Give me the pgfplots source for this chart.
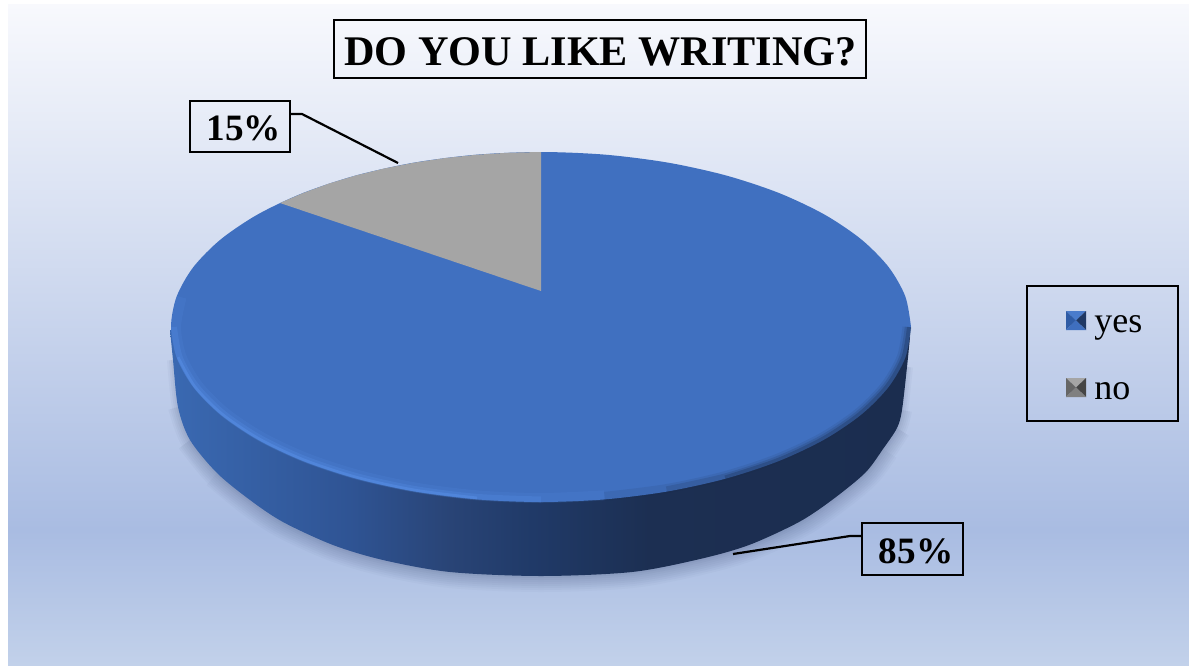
\documentclass[border=0pt]{standalone}
\usepackage{pgfplots}
\usepackage{pgfplotstable}
\usepackage{fontspec}
\setmainfont{Liberation Serif}
\pgfplotsset{compat=1.18}

\definecolor{faceblue}{HTML}{4070C0}
\definecolor{rimlight}{HTML}{5C96EE}
\definecolor{sidedark}{HTML}{1B2D4F}
\definecolor{sliceGray}{HTML}{A5A5A5}
\definecolor{shadowtone}{HTML}{3A4A70}
\definecolor{bgA}{HTML}{C2D1EA}
\definecolor{bgB}{HTML}{A9BCE2}
\definecolor{bgC}{HTML}{F8F9FD}
\definecolor{sA}{HTML}{3A69B2}
\definecolor{sB}{HTML}{2F5494}
\definecolor{sC}{HTML}{294476}
\definecolor{sD}{HTML}{203A68}
\definecolor{sE}{HTML}{1C2F52}
\definecolor{sF}{HTML}{1B2D4F}
\definecolor{keyBt}{HTML}{4A7CCC}
\definecolor{keyBr}{HTML}{1F3864}
\definecolor{keyBl}{HTML}{2F5CA6}
\definecolor{keyBb}{HTML}{3F6FBF}
\definecolor{keyGt}{HTML}{A5A5A5}
\definecolor{keyGr}{HTML}{454545}
\definecolor{keyGl}{HTML}{666666}
\definecolor{keyGb}{HTML}{808080}

% Backdrop: one vertical run from pale at the top to mid blue, then lighter again
\pgfdeclareverticalshading{backdrop}{100bp}{
  color(0bp)=(bgA); color(25bp)=(bgA);
  color(35.2bp)=(bgB);
  color(75bp)=(bgC); color(100bp)=(bgC)}
% Rim of the disc, lit from the left
\pgfdeclarehorizontalshading{discside}{100bp}{
  color(0bp)=(sA); color(25bp)=(sA);
  color(37.1bp)=(sB);
  color(43.9bp)=(sC);
  color(49.5bp)=(sD);
  color(57.4bp)=(sE);
  color(75bp)=(sF); color(100bp)=(sF)}

% Shares shown in the pie
\pgfplotstableread{
answer share
yes    85
no     15
}\sharetable
\pgfplotstablegetelem{0}{share}\of\sharetable
\edef\yesshare{\pgfplotsretval}
\pgfplotstablegetelem{1}{share}\of\sharetable
\edef\noshare{\pgfplotsretval}

% Outline of the disc top: cosine and sine every 10 degrees, index = angle/10
\pgfplotstableread{
c s
1 0
.9848 .1736
.9397 .3420
.8660 .5
.7660 .6428
.6428 .7660
.5 .8660
.3420 .9397
.1736 .9848
0 1
-.1736 .9848
-.3420 .9397
-.5 .8660
-.6428 .7660
-.7660 .6428
-.8660 .5
-.9397 .3420
-.9848 .1736
-1 0
-.9848 -.1736
-.9397 -.3420
-.8660 -.5
-.7660 -.6428
-.6428 -.7660
-.5 -.8660
-.3420 -.9397
-.1736 -.9848
0 -1
.1736 -.9848
.3420 -.9397
.5 -.8660
.6428 -.7660
.7660 -.6428
.8660 -.5
.9397 -.3420
.9848 -.1736
1 0
}\discedge

% Lower silhouette of the disc
\pgfplotstableread{
x y
170 330
173 360
178 407
190 440
217 473
250 500
283 522
333 545
383 560
450 572
541 576
632 572
700 559
749 545
799 522
832 500
865 473
883 449
897 428
902 410
907 367
910 337
}\silhouette

% Disc centre and radii on the 1189 by 665 grid of the axis
\def\ex{541+370*\thisrow{c}}
\def\ey{327-175*\thisrow{s}}

\begin{document}
\begin{tikzpicture}
\begin{axis}[
  scale only axis, width=594.5pt, height=332.5pt,
  xmin=0, xmax=1189, ymin=0, ymax=665, y dir=reverse,
  hide axis, clip=true,
]
% page and chart area
\addplot[fill=white, draw=none] coordinates {(0,0) (1189,0) (1189,665) (0,665)} -- cycle;
\addplot[shading=backdrop, draw=none] coordinates {(8,4) (1189,4) (1189,665) (8,665)} -- cycle;

% soft shadow under the disc, wider where the wall is lowest
\addplot[draw=shadowtone, opacity=.03, line width=16pt, smooth, restrict expr to domain={\coordindex}{4:17}] table[x=x,y=y] {\silhouette};
\addplot[draw=shadowtone, opacity=.035, line width=14pt, smooth, restrict expr to domain={\coordindex}{3:18}] table[x=x,y=y] {\silhouette};
\addplot[draw=shadowtone, opacity=.04, line width=12pt, smooth, restrict expr to domain={\coordindex}{3:18}] table[x=x,y=y] {\silhouette};
\addplot[draw=shadowtone, opacity=.04, line width=10pt, smooth, restrict expr to domain={\coordindex}{2:19}] table[x=x,y=y] {\silhouette};
\addplot[draw=shadowtone, opacity=.04, line width=8pt, smooth, restrict expr to domain={\coordindex}{2:19}] table[x=x,y=y] {\silhouette};
\addplot[draw=shadowtone, opacity=.04, line width=6pt, smooth, restrict expr to domain={\coordindex}{1:20}] table[x=x,y=y] {\silhouette};
\addplot[draw=shadowtone, opacity=.05, line width=4pt, smooth, restrict expr to domain={\coordindex}{1:20}] table[x=x,y=y] {\silhouette};
\addplot[draw=shadowtone, opacity=.06, line width=2pt, smooth, restrict expr to domain={\coordindex}{1:20}] table[x=x,y=y] {\silhouette};

% side wall and top of the disc
\addplot[shading=discside, draw=none, smooth] table[x=x,y=y] {\silhouette} -- cycle;
\addplot[fill=faceblue, draw=none, smooth] table[x expr=\ex, y expr=\ey] {\discedge} -- cycle;

% light bevel on the lower left, kept just inside the edge
\addplot[draw=rimlight, opacity=.12, line width=5pt, smooth,
  restrict expr to domain={\coordindex}{17:28}]
  table[x expr=541+365*\thisrow{c}, y expr=327-171*\thisrow{s}] {\discedge};
\addplot[draw=rimlight, opacity=.22, line width=3pt, smooth,
  restrict expr to domain={\coordindex}{18:27}]
  table[x expr=541+367*\thisrow{c}, y expr=327-172.5*\thisrow{s}] {\discedge};
\addplot[draw=rimlight, opacity=.4, line width=1.3pt, smooth,
  restrict expr to domain={\coordindex}{19:26}]
  table[x expr=541+368.5*\thisrow{c}, y expr=327-173.5*\thisrow{s}] {\discedge};
% dark blurred edge on the lower right
\addplot[draw=sidedark, opacity=.1, line width=4.5pt, smooth,
  restrict expr to domain={\coordindex}{28:36}]
  table[x expr=541+366*\thisrow{c}, y expr=327-172*\thisrow{s}] {\discedge};
\addplot[draw=sidedark, opacity=.18, line width=3.2pt, smooth,
  restrict expr to domain={\coordindex}{29:36}]
  table[x expr=541+367*\thisrow{c}, y expr=327-173*\thisrow{s}] {\discedge};
\addplot[draw=sidedark, opacity=.3, line width=2pt, smooth,
  restrict expr to domain={\coordindex}{30:36}]
  table[x expr=541+368*\thisrow{c}, y expr=327-173.8*\thisrow{s}] {\discedge};

% the 15% slice
\addplot[fill=sliceGray, draw=none] coordinates {
  (541,291) (541,152) (508.7,152.7) (476.8,154.7) (445.2,158) (414.5,162.6)
  (384.6,168.4) (356,175.4) (328.8,183.6) (303.2,193) (280,203)} -- cycle;

% leader lines
\addplot[black, line width=1.1pt] coordinates {(290,114) (302,114) (398,163)};
\addplot[black, line width=1.1pt] coordinates {(862,536) (850,536) (733,554)};

% legend keys, each a small pyramid of four faces
\addplot[fill=keyBt, draw=none] coordinates {(1066,311) (1086,311) (1076,320.5)} -- cycle;
\addplot[fill=keyBr, draw=none] coordinates {(1086,311) (1086,330) (1076,320.5)} -- cycle;
\addplot[fill=keyBl, draw=none] coordinates {(1066,311) (1066,330) (1076,320.5)} -- cycle;
\addplot[fill=keyBb, draw=none] coordinates {(1066,330) (1086,330) (1076,320.5)} -- cycle;
\addplot[fill=keyGt, draw=none] coordinates {(1066,378) (1086,378) (1076,387.5)} -- cycle;
\addplot[fill=keyGr, draw=none] coordinates {(1086,378) (1086,397) (1076,387.5)} -- cycle;
\addplot[fill=keyGl, draw=none] coordinates {(1066,378) (1066,397) (1076,387.5)} -- cycle;
\addplot[fill=keyGb, draw=none] coordinates {(1066,397) (1086,397) (1076,387.5)} -- cycle;

% frames
\addplot[black, line width=1.2pt] coordinates {(334,20) (866,20) (866,78) (334,78)} -- cycle;
\addplot[black, line width=1.2pt] coordinates {(190,101) (290,101) (290,152) (190,152)} -- cycle;
\addplot[black, line width=1.2pt] coordinates {(862,523) (963,523) (963,575) (862,575)} -- cycle;
\addplot[black, line width=1.2pt] coordinates {(1027,286) (1178,286) (1178,421) (1027,421)} -- cycle;

% text
\node[anchor=base, inner sep=0pt, font=\fontsize{21.1}{24}\selectfont\bfseries] at (axis cs:600.5,65) {DO YOU LIKE WRITING?};
\node[anchor=base, inner sep=0pt, font=\fontsize{18.6}{21}\selectfont\bfseries] at (axis cs:243.8,140) {\noshare\%};
\node[anchor=base, inner sep=0pt, font=\fontsize{18.6}{21}\selectfont\bfseries] at (axis cs:916,563) {\yesshare\%};
\node[anchor=base west, inner sep=0pt, font=\fontsize{18}{21}\selectfont] at (axis cs:1094,332) {yes};
\node[anchor=base west, inner sep=0pt, font=\fontsize{18}{21}\selectfont] at (axis cs:1094,399) {no};
\end{axis}
\end{tikzpicture}
\end{document}
